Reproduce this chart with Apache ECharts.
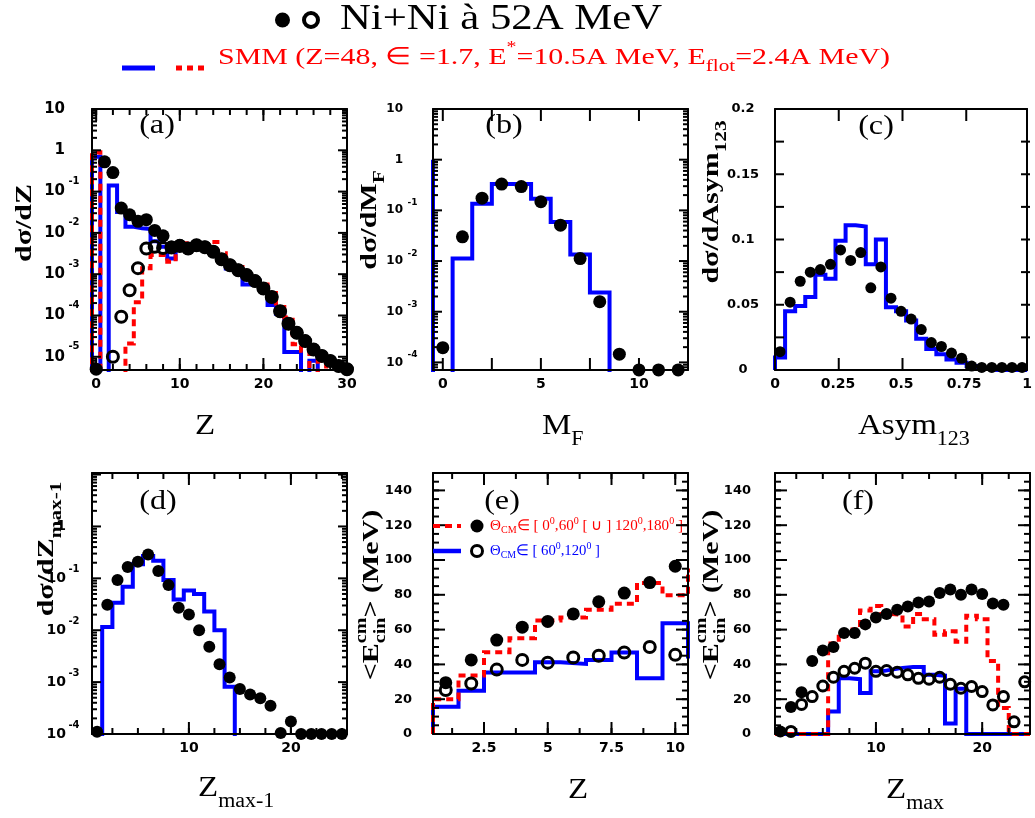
<!DOCTYPE html>
<html>
<head>
<meta charset="utf-8">
<title>Ni+Ni à 52A MeV</title>
<script src="https://cdn.jsdelivr.net/npm/echarts@6.0.0/dist/echarts.min.js"></script>
<style>
html,body{margin:0;padding:0;background:#ffffff;}
#chart{width:1035px;height:818px;}
</style>
</head>
<body>
<div id="chart"></div>
<script>
// ================= DATA =================
// (a) dσ/dZ  (log scale)
const aZFilled = [0,1,2,3,4,5,6,7,8,9,10,11,12,13,14,15,16,17,18,19,20,21,22,23,24,25,26,27,28,29,30];
const aFilled  = [5.0e-6,0.525,0.288,0.0398,0.0275,0.0191,0.0209,0.0115,0.0085,0.00457,0.0050,0.00417,0.0050,0.00457,0.00355,0.00229,0.00166,0.00126,0.00095,0.00068,0.00045,0.00028,0.000126,0.000063,0.000038,0.000024,0.0000151,0.0000105,0.0000079,0.000006,0.000005];
const aZOpen   = [2,3,4,5,6,7,8,9,10,11,12,13,14,15,16,17,18,19,20,21,22,23,24,25,26,27,28,29,30];
const aOpen    = [1.0e-5,9.3e-5,4.1e-4,1.4e-3,4.2e-3,4.6e-3,4.3e-3,4.4e-3,4.8e-3,4.2e-3,5.0e-3,4.5e-3,3.5e-3,2.3e-3,1.65e-3,1.25e-3,9.5e-4,6.8e-4,4.5e-4,2.8e-4,1.26e-4,6.3e-5,3.8e-5,2.4e-5,1.5e-5,1.05e-5,7.9e-6,6.0e-6,5.0e-6];
const aZBins   = [0,1,2,3,4,5,6,7,8,9,10,11,12,13,14,15,16,17,18,19,20,21,22,23,24,25,26,27,28,29,30];
const aBlue    = [0.7,0,0.14,0.032,0.014,0.013,0.0125,0.0063,0.0046,0.0024,0.0045,0.0045,0.0048,0.0042,0.0035,0.0024,0.00138,0.00126,0.00056,0.0007,0.0005,0.00018,0.00011,0.000013,0.000013,0,0.000008,0,0,0,0];
const aRed     = [0.9,0,0,0,0.000021,0.00021,0.0014,0.0029,0.0029,0.0020,0.0050,0.0056,0.0060,0.0052,0.0060,0.0032,0.0018,0.0015,0.0010,0.00079,0.00056,0.00035,0.00016,0.000089,0.00002,0.000014,0,0.000008,0,0,0];
const aXLabels = [0,10,20,30];
const aYExp    = [-5,-4,-3,-2,-1,0,1];

// (b) dσ/dM_F (log scale)
const bM       = [0,1,2,3,4,5,6,7,8,9,10,11,12];
const bFilled  = [1.95e-4,0.030,0.174,0.33,0.295,0.148,0.051,0.0112,0.00158,1.45e-4,7.1e-5,7.1e-5,7.1e-5];
const bBlue    = [0,0.0112,0.135,0.33,0.33,0.17,0.059,0.0135,0.0024,0,0,0,0];
const bBlueEdge = 1;
const bXLabels = [0,5,10];
const bYExp    = [-4,-3,-2,-1,0,1];

// (c) dσ/dAsym123 (linear)
const cX       = [0.02,0.06,0.10,0.14,0.18,0.22,0.26,0.30,0.34,0.38,0.42,0.46,0.50,0.54,0.58,0.62,0.66,0.70,0.74,0.78,0.82,0.86,0.90,0.94,0.98];
const cFilled  = [0.014,0.052,0.068,0.075,0.077,0.081,0.092,0.084,0.090,0.063,0.079,0.055,0.045,0.039,0.031,0.021,0.018,0.013,0.009,0.003,0.002,0.002,0.002,0.002,0.002];
const cBlue    = [0.0095,0.045,0.049,0.056,0.073,0.070,0.099,0.111,0.110,0.081,0.100,0.048,0.045,0.038,0.024,0.016,0.012,0.008,0.0055,0.003,0.001,0,0,0,0];
const cXLabels = [0,0.25,0.5,0.75,1];
const cYLabels = [0,0.05,0.1,0.15,0.2];

// (d) dσ/dZmax-1 (log scale)
const dZ       = [1,2,3,4,5,6,7,8,9,10,11,12,13,14,15,16,17,18,19,20,21,22,23,24,25];
const dFilled  = [1.1e-4,0.031,0.093,0.166,0.209,0.288,0.138,0.074,0.027,0.020,0.010,0.0048,0.0022,0.00123,0.00074,0.00058,0.00049,0.00035,1.05e-4,1.74e-4,1.0e-4,1.0e-4,1.0e-4,1.0e-4,1.0e-4];
const dBlue    = [0,0.0115,0.034,0.069,0.186,0.27,0.219,0.093,0.039,0.058,0.05,0.023,0.010,0.00081,0,0,0,0,0,0,0,0,0,0,0];
const dXLabels = [10,20];
const dYExp    = [-4,-3,-2,-1,0];

// (e) <Ecin> vs Z
const eZ       = [1,2,3,4,5,6,7,8,9,10];
const eFilled  = [29.5,42.6,54,61.4,64.7,69,76,81,87,96.4];
const eOpen    = [25.3,29,37,42.6,41,44,45,46.8,50,45.5];
const eZBins   = [1,2,3,4,5,6,7,8,9,10,11];
const eRed     = [20,33.6,47,55,65.3,67,71.4,74.8,86.8,79.7,94];
const eBlue    = [15.7,24.8,35.3,35.3,41.3,40.3,42.6,46.8,32,63.7,44.5];
const eXLabels = [2.5,5,7.5,10];
const eYLabels = [0,20,40,60,80,100,120,140];

// (f) <Ecin> vs Zmax
const fZFilled = [1,2,3,4,5,6,7,8,9,10,11,12,13,14,15,16,17,18,19,20,21,22];
const fFilled  = [1.5,15.5,24,42,48,50,58,58,63,67,69,71.4,73.3,75.6,76.2,81,83,80,83,80.4,75,74.3];
const fZOpen   = [2,3,4,5,6,7,8,9,10,11,12,13,14,15,16,17,18,19,20,21,22,23,24];
const fOpen    = [1.5,17,21.5,27.6,32.6,36,37.8,40.7,36,36.5,35.5,34,32,31.5,32.6,28.6,26.3,27.3,24.4,16.7,21.5,7,30];
const fZBins   = [1,2,3,4,5,6,7,8,9,10,11,12,13,14,15,16,17,18,19,20,21,22,23,24];
const fRed     = [0,0,0,0,0,52,58,60,71,73.5,69,68.5,61.8,69,66,57,59,53,68,66,42,15,0,0];
const fBlue    = [0,0,0,0,0,13,32,31.5,23.5,36,37,38,38.5,38.5,34,33.5,6,26,0,0,0,0,0,0];
const fXLabels = [10,20];
const fYLabels = [0,20,40,60,80,100,120,140];

// ================= HELPERS =================
const SERIF = '"Liberation Serif","Times New Roman",serif';
const SANS = '"DejaVu Sans",sans-serif';
const BLUE = '#0000ff', RED = '#ff0000';
const FLOOR = -20;
const lg = v => (v > 0 ? Math.log10(v) : FLOOR);
const lin = v => v;

function range(a, b, step) { const r = []; for (let v = a; v <= b + 1e-9; v += step) r.push(+v.toFixed(6)); return r; }
function logMinors(lo, hi) {
  const r = [];
  for (let e = Math.floor(lo); e <= Math.ceil(hi); e++)
    for (let k = 2; k <= 9; k++) { const v = e + Math.log10(k); if (v > lo && v < hi) r.push(v); }
  return r;
}

const grids = [], xAxes = [], yAxes = [], series = [], graphics = [];

function axisSet(dim, gi, c) {
  const arr = dim === 'x' ? xAxes : yAxes;
  const posA = dim === 'x' ? 'bottom' : 'left';
  const posB = dim === 'x' ? 'top' : 'right';
  const common = { gridIndex: gi, type: 'value', min: c.min, max: c.max, splitLine: { show: false }, axisTick: { show: false }, silent: true, z: 5 };
  const frame = { show: true, onZero: false, lineStyle: { color: '#000', width: 2 } };
  const label = c.log ? {
    show: true, customValues: c.labels, margin: c.margin,
    formatter: v => { const e = Math.round(v); const base = e === 0 ? '1' : '10'; const ex = (e === 0 || e === 1) ? ' ' : String(e); return '{b|' + base + '}{s|' + ex + '}'; },
    rich: {
      b: { fontFamily: SANS, fontWeight: 'bold', fontSize: c.fontSize, lineHeight: c.fontSize * 2, color: '#000' },
      s: { fontFamily: SANS, fontWeight: 'bold', fontSize: c.expSize, lineHeight: c.expSize, verticalAlign: 'top', width: c.expW, align: 'left', padding: [0, 0, 0, 2], color: '#000' }
    }
  } : {
    show: true, customValues: c.labels, margin: c.margin, align: c.align,
    fontFamily: SANS, fontWeight: 'bold', fontSize: c.fontSize, color: '#000',
    formatter: v => String(+(+v).toFixed(4))
  };
  const idx = arr.length;
  arr.push(Object.assign({}, common, { position: posA, axisLine: frame, axisLabel: label }));
  arr.push(Object.assign({}, common, { position: posB, axisLine: frame, axisLabel: { show: false } }));
  return idx;
}

// inward tick marks on the four frame sides (axis decoration, from the axis configuration)
function frameTicks(cfg) {
  const L = cfg.left, T = cfg.top, Rt = cfg.left + cfg.w, B = cfg.top + cfg.h;
  const sx = v => L + (v - cfg.x.min) / (cfg.x.max - cfg.x.min) * cfg.w;
  const sy = v => B - (v - cfg.y.min) / (cfg.y.max - cfg.y.min) * cfg.h;
  const line = (x1, y1, x2, y2) => graphics.push({ type: 'line', shape: { x1: x1, y1: y1, x2: x2, y2: y2 }, style: { stroke: '#000000', lineWidth: 2 }, z: 100, silent: true });
  const addX = (v, len) => { const px = sx(v); if (px < L + 1 || px > Rt - 1) return; line(px, B, px, B - len); line(px, T, px, T + len); };
  const addY = (v, len) => { const py = sy(v); if (py < T + 1 || py > B - 1) return; line(L, py, L + len, py); line(Rt, py, Rt - len, py); };
  cfg.x.majors.forEach(v => addX(v, cfg.x.majorLen));
  cfg.x.minors.forEach(v => addX(v, cfg.x.minorLen));
  cfg.y.majors.forEach(v => addY(v, cfg.y.majorLen));
  cfg.y.minors.forEach(v => addY(v, cfg.y.minorLen));
}

function panel(cfg) {
  const gi = grids.length;
  grids.push({ left: cfg.left, top: cfg.top, width: cfg.w, height: cfg.h, containLabel: false, show: false });
  const p = { xi: axisSet('x', gi, cfg.x), yi: axisSet('y', gi, cfg.y) };
  frameTicks(cfg);
  return p;
}

function stepPoints(centers, values, width, tf, base) {
  const h = width / 2, pts = [[centers[0] - h, base]];
  centers.forEach((c, i) => { const y = tf(values[i]); pts.push([c - h, y]); pts.push([c + h, y]); });
  pts.push([centers[centers.length - 1] + h, base]);
  return pts;
}
function hist(p, centers, values, width, tf, base, color, dashed) {
  series.push({
    type: 'line', xAxisIndex: p.xi, yAxisIndex: p.yi, data: stepPoints(centers, values, width, tf, base),
    symbol: 'none', showSymbol: false, clip: true, silent: true, z: 2, animation: false,
    lineStyle: { color: color, width: 4, type: dashed ? [7, 5] : 'solid', cap: 'butt', join: 'miter', opacity: 1 },
    emphasis: { disabled: true }
  });
}
function dots(p, xs, ys, tf, size, open) {
  series.push({
    type: 'scatter', xAxisIndex: p.xi, yAxisIndex: p.yi, data: xs.map((x, i) => [x, tf(ys[i])]),
    symbol: 'circle', symbolSize: size, clip: true, silent: true, z: 3, animation: false,
    itemStyle: open ? { color: 'rgba(0,0,0,0)', borderColor: '#000', borderWidth: 3, opacity: 1 } : { color: '#000', opacity: 1 },
    emphasis: { disabled: true }
  });
}

// text with sub/superscripts as a group of text pieces
const mctx = document.createElement('canvas').getContext('2d');
function tw(t, font) { mctx.font = font; return mctx.measureText(t).width; }
function rt(o) {
  let cx = 0; const kids = [];
  o.parts.forEach(p => {
    const font = (p.weight || o.weight || 'normal') + ' ' + p.size + 'px ' + o.family;
    const w = tw(p.t, font);
    kids.push({ type: 'text', x: cx, y: p.dy || 0, silent: true,
      style: { text: p.t, font: font, fill: p.color || o.color || '#000', align: 'left', textAlign: 'left', verticalAlign: 'middle', textVerticalAlign: 'middle' } });
    if (p.adv !== false) cx += w;
  });
  const sx = o.width ? o.width / cx : (o.scale || 1);
  const off = o.align === 'center' ? -cx / 2 : (o.align === 'right' ? -cx : 0);
  kids.forEach(k => { k.x += off; });
  graphics.push({ type: 'group', x: o.x, y: o.y, rotation: o.rotation || 0, scaleX: sx, children: kids, z: 100, silent: true });
}

// ================= PANELS =================
const linX = (min, max, labels, majors, minors) => ({ min, max, labels, majors, minors, majorLen: 12, minorLen: 6, fontSize: 14, margin: 7 });

// (a)
const pa = panel({ left: 92, top: 109, w: 255, h: 261,
  x: linX(-0.5, 30, aXLabels, range(0, 30, 10), range(0, 30, 2)),
  y: { log: true, min: -5.32, max: 1, labels: aYExp, majors: range(-5, 1, 1), minors: logMinors(-5.32, 1), majorLen: 9, minorLen: 5, fontSize: 15, expSize: 10, expW: 14, margin: 11 } });
hist(pa, aZBins, aBlue, 1, lg, FLOOR, BLUE, false);
hist(pa, aZBins, aRed, 1, lg, FLOOR, RED, true);
dots(pa, aZOpen, aOpen, lg, 11, true);
dots(pa, aZFilled, aFilled, lg, 13, false);

// (b)
const pb = panel({ left: 433, top: 109, w: 255, h: 261,
  x: linX(-0.5, 12.5, bXLabels, range(0, 12.5, 2.5), []),
  y: { log: true, min: -4.15, max: 1, labels: bYExp, majors: range(-4, 1, 1), minors: logMinors(-4.15, 1), majorLen: 9, minorLen: 5, fontSize: 12, expSize: 9, expW: 15, margin: 13 } });
hist(pb, bM, bBlue, 1, lg, FLOOR, BLUE, false);
series.push({ type: 'line', xAxisIndex: pb.xi, yAxisIndex: pb.yi, data: [[bM[0] - 0.5, FLOOR], [bM[0] - 0.5, lg(bBlueEdge)]],
  symbol: 'none', clip: true, silent: true, z: 2, lineStyle: { color: BLUE, width: 4 }, emphasis: { disabled: true } });
dots(pb, bM, bFilled, lg, 13, false);

// (c)
const pc = panel({ left: 775, top: 109, w: 255, h: 261,
  x: linX(0, 1, cXLabels, range(0, 1, 0.25), []),
  y: { min: 0, max: 0.2, labels: cYLabels, majors: range(0, 0.2, 0.025), minors: [], majorLen: 9, minorLen: 5, fontSize: 13, margin: 32, align: 'center' } });
hist(pc, cX, cBlue, 0.04, lin, 0, BLUE, false);
dots(pc, cX, cFilled, lin, 11, false);

// (d)
const pd = panel({ left: 92, top: 473, w: 255, h: 261,
  x: linX(0.5, 25.5, dXLabels, [10, 20], range(2.5, 25, 2.5)),
  y: { log: true, min: -4, max: 1.03, labels: dYExp, majors: range(-4, 1, 1), minors: logMinors(-4, 1.03), majorLen: 9, minorLen: 5, fontSize: 14, expSize: 10, expW: 12, margin: 12 } });
hist(pd, dZ, dBlue, 1, lg, FLOOR, BLUE, false);
dots(pd, dZ, dFilled, lg, 12, false);

// (e)
const pe = panel({ left: 433, top: 473, w: 255, h: 261,
  x: linX(0.5, 10.5, eXLabels, [2.5, 5, 7.5, 10], range(1.25, 10, 1.25)),
  y: { min: 0, max: 150, labels: eYLabels, majors: range(0, 140, 20), minors: range(0, 150, 5), majorLen: 12, minorLen: 6, fontSize: 13, margin: 21 } });
hist(pe, eZBins, eBlue, 1, lin, 0, BLUE, false);
hist(pe, eZBins, eRed, 1, lin, 0, RED, true);
dots(pe, eZ, eOpen, lin, 11, true);
dots(pe, eZ, eFilled, lin, 13, false);

// (f)
const pf = panel({ left: 775, top: 473, w: 255, h: 261,
  x: linX(0.5, 24.5, fXLabels, [10, 20], range(2.5, 22.5, 2.5)),
  y: { min: 0, max: 150, labels: fYLabels, majors: range(0, 140, 20), minors: range(0, 150, 5), majorLen: 12, minorLen: 6, fontSize: 13, margin: 24 } });
hist(pf, fZBins, fBlue, 1, lin, 0, BLUE, false);
hist(pf, fZBins, fRed, 1, lin, 0, RED, true);
dots(pf, fZOpen, fOpen, lin, 10, true);
dots(pf, fZFilled, fFilled, lin, 12, false);

// ================= TEXTS / DECORATION =================
// header
graphics.push({ type: 'circle', shape: { cx: 282.5, cy: 20, r: 7.5 }, style: { fill: '#000' }, z: 100, silent: true });
graphics.push({ type: 'circle', shape: { cx: 311, cy: 20, r: 7 }, style: { fill: 'none', stroke: '#000', lineWidth: 4 }, z: 100, silent: true });
rt({ x: 340, y: 19.5, family: SERIF, width: 322, parts: [{ t: 'Ni+Ni à 52A MeV', size: 36 }] });
graphics.push({ type: 'line', shape: { x1: 122, y1: 68, x2: 155, y2: 68 }, style: { stroke: BLUE, lineWidth: 5 }, z: 100, silent: true });
graphics.push({ type: 'line', shape: { x1: 176, y1: 68, x2: 206, y2: 68 }, style: { stroke: RED, lineWidth: 5, lineDash: [6, 5] }, z: 100, silent: true });
rt({ x: 218, y: 58, family: SERIF, color: RED, width: 672, parts: [
  { t: 'SMM (Z=48, ∈ =1.7, E', size: 24 }, { t: '*', size: 16, dy: -10 },
  { t: '=10.5A MeV, E', size: 24 }, { t: 'flot', size: 17, dy: 9 }, { t: '=2.4A MeV)', size: 24 }] });

// panel letters
[['(a)', 157, 126], ['(b)', 504, 126], ['(c)', 876, 127], ['(d)', 158, 502], ['(e)', 502, 502], ['(f)', 858, 502]]
  .forEach(([t, x, y]) => rt({ x, y, align: 'center', family: SERIF, scale: 1.15, parts: [{ t, size: 28 }] }));

// x titles
rt({ x: 195, y: 426, family: SERIF, scale: 1.1, parts: [{ t: 'Z', size: 30 }] });
rt({ x: 542, y: 426, family: SERIF, scale: 1.1, parts: [{ t: 'M', size: 30 }, { t: 'F', size: 20, dy: 14 }] });
rt({ x: 858, y: 426, family: SERIF, scale: 1.1, parts: [{ t: 'Asym', size: 30 }, { t: '123', size: 20, dy: 14 }] });
rt({ x: 198, y: 788, family: SERIF, scale: 1.1, parts: [{ t: 'Z', size: 30 }, { t: 'max-1', size: 20, dy: 14 }] });
rt({ x: 568, y: 790, family: SERIF, scale: 1.1, parts: [{ t: 'Z', size: 30 }] });
rt({ x: 886, y: 790, family: SERIF, scale: 1.1, parts: [{ t: 'Z', size: 30 }, { t: 'max', size: 20, dy: 14 }] });

// y titles (rotated)
const R = Math.PI / 2;
rt({ x: 25, y: 223, rotation: R, align: 'center', family: SERIF, weight: 'bold', scale: 1.25, parts: [{ t: 'dσ/dZ', size: 24 }] });
rt({ x: 370, y: 220, rotation: R, align: 'center', family: SERIF, weight: 'bold', scale: 1.25, parts: [{ t: 'dσ/dM', size: 24 }, { t: 'F', size: 17, dy: 10 }] });
rt({ x: 712, y: 202, rotation: R, align: 'center', family: SERIF, weight: 'bold', scale: 1.25, parts: [{ t: 'dσ/dAsym', size: 24 }, { t: '123', size: 17, dy: 10 }] });
rt({ x: 47, y: 549, rotation: R, align: 'center', family: SERIF, weight: 'bold', scale: 1.25, parts: [{ t: 'dσ/dZ', size: 24 }, { t: 'max-1', size: 17, dy: 10 }] });
[[372, 595], [712, 595]].forEach(([x, y]) => rt({ x, y, rotation: R, align: 'center', family: SERIF, weight: 'bold', scale: 1.25, parts: [
  { t: '<E', size: 24 }, { t: 'cin', size: 16, dy: 9, adv: false }, { t: 'cm', size: 16, dy: -10 }, { t: '> (MeV)', size: 24 }] }));

// legend of (e)
graphics.push({ type: 'line', shape: { x1: 433, y1: 526, x2: 461, y2: 526 }, style: { stroke: RED, lineWidth: 4, lineDash: [7, 5] }, z: 100, silent: true });
graphics.push({ type: 'circle', shape: { cx: 477, cy: 526, r: 6.5 }, style: { fill: '#000' }, z: 100, silent: true });
rt({ x: 490, y: 526, family: SERIF, color: RED, width: 193, parts: [
  { t: 'Θ', size: 15 }, { t: 'CM', size: 10, dy: 4 }, { t: '∈ [ 0', size: 15 }, { t: '0', size: 10, dy: -5 },
  { t: ',60', size: 15 }, { t: '0', size: 10, dy: -5 }, { t: ' [ ∪ ] 120', size: 15 }, { t: '0', size: 10, dy: -5 },
  { t: ',180', size: 15 }, { t: '0', size: 10, dy: -5 }, { t: ' ]', size: 15 }] });
graphics.push({ type: 'line', shape: { x1: 433, y1: 551, x2: 461, y2: 551 }, style: { stroke: BLUE, lineWidth: 4.5 }, z: 100, silent: true });
graphics.push({ type: 'circle', shape: { cx: 477, cy: 551, r: 5.5 }, style: { fill: 'none', stroke: '#000', lineWidth: 3 }, z: 100, silent: true });
rt({ x: 490, y: 551, family: SERIF, color: BLUE, width: 110, parts: [
  { t: 'Θ', size: 15 }, { t: 'CM', size: 10, dy: 4 }, { t: '∈ [ 60', size: 15 }, { t: '0', size: 10, dy: -5 },
  { t: ',120', size: 15 }, { t: '0', size: 10, dy: -5 }, { t: ' ]', size: 15 }] });

// ================= CHART =================
const chart = echarts.init(document.getElementById('chart'), null, { renderer: 'canvas', width: 1035, height: 818 });
chart.setOption({
  animation: false,
  backgroundColor: '#ffffff',
  grid: grids,
  xAxis: xAxes,
  yAxis: yAxes,
  series: series,
  graphic: { elements: graphics }
});
</script>
</body>
</html>
